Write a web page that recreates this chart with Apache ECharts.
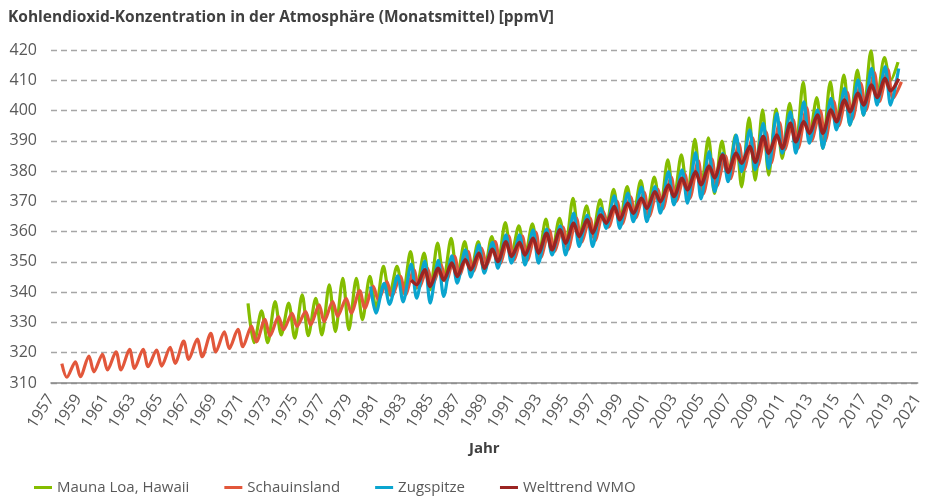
<!DOCTYPE html>
<html>
<head>
<meta charset="utf-8">
<script src="https://cdn.jsdelivr.net/npm/echarts@6/dist/echarts.min.js"></script>
<style>
  html, body { margin: 0; padding: 0; background: #fff; }
  #chart { width: 926px; height: 499px; }
</style>
</head>
<body>
<div id="chart"></div>
<script>
var BASE_YEAR = 1957;

// Mauna Loa, Hawaii (ab 1971)
var mlStart = 1971;
var mlLow = [null, 323.3, 323.3, 325.9, 324.8, 325.6, 325.9, 327, 327.6, 330.9,
  334.7, 339.1, 339.7, 341.3, 340.8, 344, 345.2, 346.3, 346.8, 349.5,
  352.3, 351.8, 351.2, 352.9, 355.6, 357.8, 358.4, 361.7, 362.8, 365,
  366.1, 367.7, 370.5, 372.1, 373.8, 372.6, 378.2, 374.8, 377, 378.7,
  384.2, 387.5, 390.8, 387.5, 395.8, 395.2, 398.5, 403.5, 410];
var mlHigh = [336.3, 333.8, 336.9, 336.4, 339.1, 338, 342.4, 344.6, 344.6, 345.2,
  348.5, 348.5, 353.4, 352.9, 356.2, 357.8, 356.7, 356.7, 358.4, 363,
  361.9, 362.6, 364.1, 364.4, 371, 368.5, 370.5, 374, 374.9, 376.9,
  378, 383.7, 385.4, 390.5, 391, 389.9, 391.9, 397.6, 400.2, 400.5,
  402.4, 409.3, 404.3, 409.5, 411.7, 413.4, 419.7, 417.5, 416];

// Schauinsland (ab 1957)
var siStart = 1957;
var siLow = [null, 311.9, 312.1, 313.7, 314.3, 314.3, 314.8, 315.4, 315.6, 316.5,
  317.8, 318.7, 320.3, 321.4, 322, 323.6, 325.5, 327.6, 328.7, 329.2,
  330.3, 332, 333.1, 334.7, 337.5, 338.6, 339.1, 341.3, 342.4, 343.5,
  345.7, 346.8, 349, 349.5, 350.5, 350.5, 351.5, 353.5, 354, 356.5,
  357, 361.5, 362.5, 364.5, 365, 367.5, 370, 371, 372.5, 375,
  377.5, 380.5, 381.5, 382.5, 387, 387.5, 390, 390, 395, 397,
  400, 403, 404];
var siHigh = [316.4, 317, 318.9, 319.5, 320.3, 321.1, 321.1, 320.9, 321.8, 323.8,
  324.5, 326.4, 326.9, 327.7, 328.8, 331, 331.9, 333, 333.6, 335.8,
  336.9, 338, 340.5, 341.9, 343.5, 345.2, 347.4, 347.9, 349, 351.8,
  353.4, 354.5, 356.7, 358.5, 358.5, 359.8, 360.5, 361.5, 364.5, 364.5,
  366.5, 370, 371.5, 373, 374, 378, 379, 383.5, 384, 385,
  389, 391, 393, 396, 397, 401, 400, 403, 406, 409,
  412.5, 413.5, 409.5];

// Zugspitze (ab 1980)
var zsStart = 1980;
var zsLow = [null, 333.1, 336, 336.8, 338, 336.4, 338.6, 343, 345, 346.3,
  347.9, 349.6, 349, 349.6, 352.3, 352.3, 355.1, 355.1, 361.1, 361.1,
  363.3, 363.3, 366.1, 368.8, 369.4, 370.8, 373.2, 376.5, 379.8, 380.4,
  380.9, 385.9, 385.9, 389.2, 387.5, 393.6, 395.2, 398.5, 401.8, 401.8];
var zsHigh = [341.9, 342.9, 345.4, 349.3, 350.3, 350.5, 352, 354, 355.6, 356.5,
  358.9, 358.9, 360.6, 360.8, 361.9, 366.1, 365.5, 367.7, 371.8, 372.7,
  374.7, 374.9, 379.8, 380.4, 386.1, 386.4, 385.9, 391.9, 393.6, 395.8,
  399.1, 399.6, 402.9, 400.2, 404, 407.3, 410.1, 413.9, 414.5, 413.9];

// Welttrend WMO (ab 1983)
var wmoStart = 1983;
var wmoLow = [null, 342.5, 341.9, 344, 345.2, 347.4, 347.9, 350.1, 351.8, 352.3,
  352.9, 354, 356.2, 358.4, 359.5, 362.8, 363.9, 366.1, 367.7, 369.9,
  371.6, 373.8, 375.5, 377.8, 379.6, 382.6, 382.9, 385.9, 387.5, 389.7,
  392.5, 392.5, 396.3, 399.6, 401.8, 404.3, 406.5];
var wmoHigh = [344, 347.4, 347.9, 349.6, 350.7, 352.9, 354.2, 356.7, 356.4, 357.8,
  359.5, 360.6, 362.8, 363.9, 365.5, 368.3, 369.4, 371, 373.2, 375.4,
  377.6, 379.8, 381.6, 385.3, 385.9, 388.1, 391.4, 391.9, 395.8, 396.3,
  398.5, 400.2, 403.5, 405.7, 408.4, 410.6, 410.5];

// Tal und Spitze je Jahr als Punkte auf der Zeitachse (Jahre seit 1957)
function buildSeries(start, lows, highs, lowAt, highAt) {
  var pts = [];
  for (var i = 0; i < lows.length; i++) {
    var yr = start + i - BASE_YEAR;
    if (lows[i] != null) pts.push([yr + lowAt, lows[i]]);
    if (highs[i] != null) pts.push([yr + highAt, highs[i]]);
  }
  return pts;
}

var FONT = '"Open Sans", "Noto Sans", sans-serif';

var chart = echarts.init(document.getElementById('chart'), null, { renderer: 'canvas' });

function lineSeries(name, color, data, width) {
  return {
    name: name,
    type: 'line',
    data: data,
    showSymbol: false,
    smooth: 0.3,
    lineStyle: { color: color, width: width },
    itemStyle: { color: color },
    emphasis: { disabled: true }
  };
}

chart.setOption({
  animation: false,
  title: {
    text: 'Kohlendioxid-Konzentration in der Atmosphäre (Monatsmittel) [ppmV]',
    left: 3,
    top: 5,
    textStyle: { fontFamily: FONT, fontSize: 15.5, fontWeight: 'bold', color: '#404040' }
  },
  legend: {
    left: 29,
    top: 475,
    icon: 'rect',
    itemWidth: 18,
    itemHeight: 3,
    itemGap: 35,
    textStyle: { fontFamily: FONT, fontSize: 15, color: '#595959' },
    data: ['Mauna Loa, Hawaii', 'Schauinsland', 'Zugspitze', 'Welttrend WMO']
  },
  grid: { left: 51, right: 5, top: 50, bottom: 116, containLabel: false },
  xAxis: {
    type: 'value',
    min: 0,
    max: 64,
    interval: 2,
    name: 'Jahr',
    nameLocation: 'middle',
    nameGap: 58,
    nameTextStyle: { fontFamily: FONT, fontSize: 15, fontWeight: 'bold', color: '#404040' },
    axisLine: { show: true, lineStyle: { color: '#888', width: 1.5 } },
    axisTick: { show: false },
    splitLine: { show: false },
    axisLabel: {
      rotate: 57,
      margin: 13,
      fontFamily: FONT,
      fontSize: 16,
      color: '#595959',
      formatter: function (v) { return String(BASE_YEAR + v); }
    }
  },
  yAxis: {
    type: 'value',
    min: 310,
    max: 420,
    interval: 10,
    axisLine: { show: false },
    axisTick: { show: false },
    axisLabel: { fontFamily: FONT, fontSize: 16, color: '#595959', margin: 14 },
    splitLine: { lineStyle: { color: '#a6a6a6', type: [6, 4], width: 1.3 } }
  },
  series: [
    lineSeries('Mauna Loa, Hawaii', '#84bd00', buildSeries(mlStart, mlLow, mlHigh, 0.0, 0.55), 3.2),
    lineSeries('Schauinsland', '#e2573b', buildSeries(siStart, siLow, siHigh, 0.17, 0.8), 3.2),
    lineSeries('Zugspitze', '#0aa5cf', buildSeries(zsStart, zsLow, zsHigh, 0.0, 0.6), 3.2),
    lineSeries('Welttrend WMO', '#9b2422', buildSeries(wmoStart, wmoLow, wmoHigh, 0.0, 0.6), 3.5)
  ]
});
</script>
</body>
</html>
